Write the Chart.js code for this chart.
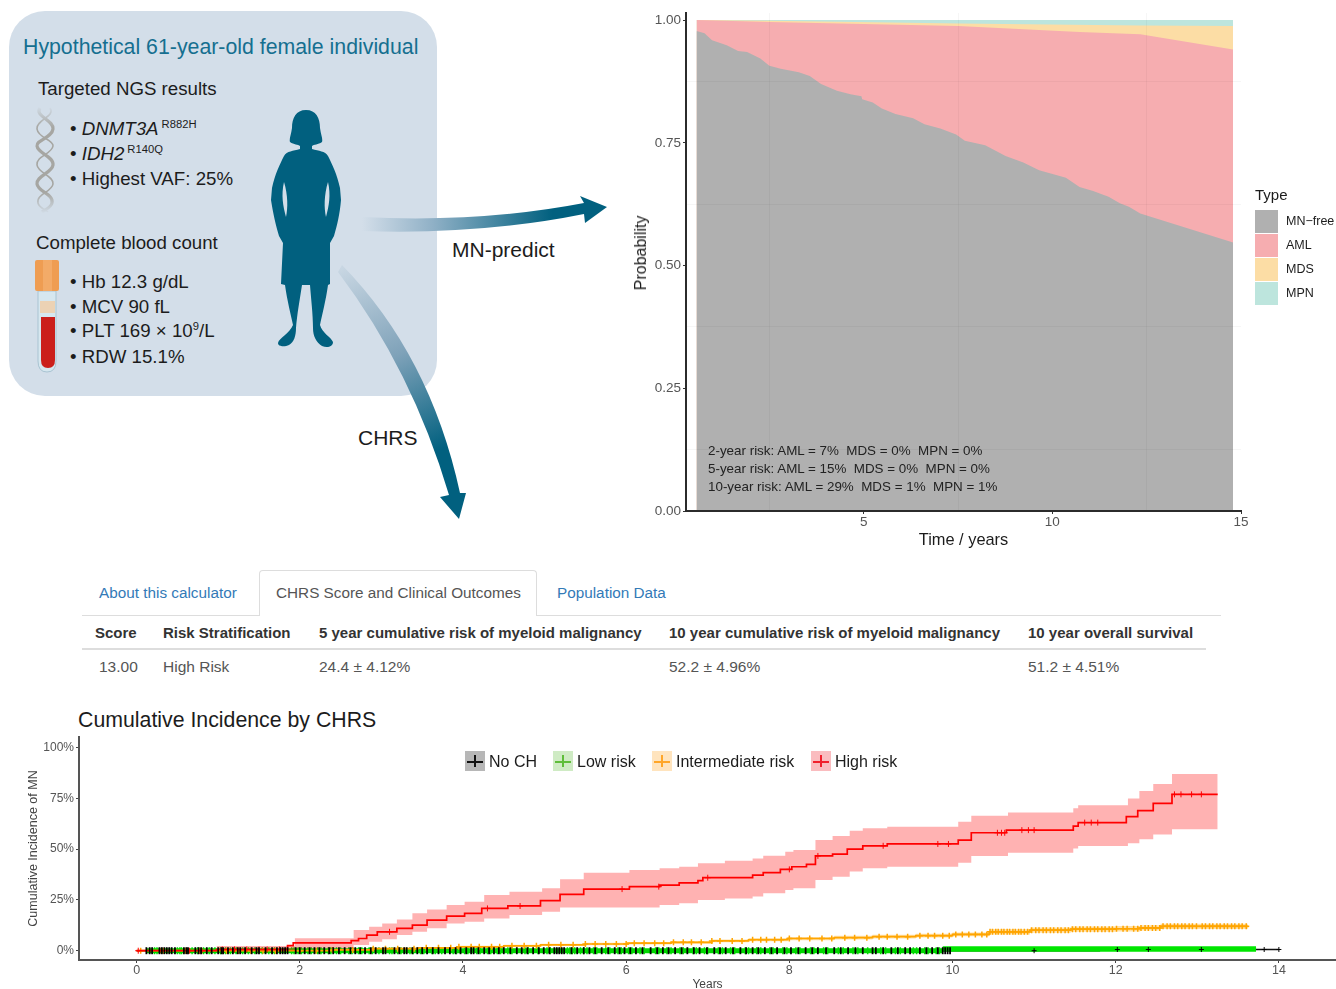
<!DOCTYPE html>
<html>
<head>
<meta charset="utf-8">
<title>MN-predict and CHRS</title>
<script src="https://cdn.jsdelivr.net/npm/chart.js@4/dist/chart.umd.min.js"></script>
<style>
  html, body { margin: 0; background: #fff; }
  body { position: relative; width: 1336px; height: 989px; overflow: hidden; font-family: "Liberation Sans", Arial, sans-serif; color: #1c1c1c; filter: blur(0.4px); }
  canvas, svg { position: absolute; }
  .t { position: absolute; white-space: pre; line-height: 1; transform: translateY(-50%); }
  .t sup { font-size: 0.6em; line-height: 0; vertical-align: baseline; position: relative; top: -0.62em; margin-left: 3px; }
  .swatch { position: absolute; }
</style>
</head>
<body>
<svg width="1336" height="989" style="left:0;top:0">
  <defs>
    <linearGradient id="arrowRight" x1="362" y1="0" x2="600" y2="0" gradientUnits="userSpaceOnUse">
      <stop offset="0" stop-color="#d3dee9"/><stop offset="0.3" stop-color="#8fb0c6"/><stop offset="0.8" stop-color="#01607f"/>
    </linearGradient>
    <linearGradient id="arrowDown" x1="345" y1="265" x2="455" y2="500" gradientUnits="userSpaceOnUse">
      <stop offset="0" stop-color="#c9d7e3"/><stop offset="0.4" stop-color="#7fa2b9"/><stop offset="0.8" stop-color="#01607f"/>
    </linearGradient>
    <linearGradient id="dnaFade" x1="0" y1="106" x2="0" y2="214" gradientUnits="userSpaceOnUse">
      <stop offset="0" stop-color="#d3dee9"/><stop offset="0.2" stop-color="#a6a6a2"/><stop offset="0.8" stop-color="#a6a6a2"/><stop offset="1" stop-color="#d3dee9"/>
    </linearGradient>
  </defs>
  <rect x="9" y="11" width="428" height="385" rx="36" fill="#d3dee9"/>
  <!-- DNA -->
  <g fill="none" stroke="url(#dnaFade)">
    <path stroke-width="1.6" d="M50 108C56 116 36 120 37 129C38 138 54 140 53 146C52 154 36 156 37 165C38 173 54 176 53 184C52 192 36 194 38 203C39 208 46 210 48 212"/>
    <path stroke-width="3.2" d="M40 108C34 116 54 120 53 129C52 138 36 140 37 146C38 154 54 156 53 165C52 173 36 176 37 184C38 192 54 194 52 203C51 208 44 210 42 212"/>
  </g>
  <!-- blood tube -->
  <path d="M38 291L38 361Q38 372 47 372Q56 372 56 361L56 291Z" fill="#d6e7ef" stroke="#a9c4d2"/>
  <rect x="40" y="301" width="15" height="12" fill="#ecd2b4"/>
  <path d="M41 317L55 317L55 360Q55 368 48 368Q41 368 41 360Z" fill="#cb1f1b"/>
  <rect x="35" y="260" width="24" height="31" rx="2" fill="#ef9d52"/>
  <rect x="43" y="260" width="9" height="31" fill="#f3ab68"/>
  <!-- person -->
  <path fill="#01607f" d="M306 110C296 110 292 118 292 128C291 135 289 139 290 142C294 145 298 144 300 146L300 149C293 151 287 151 284 156C280 164 275 174 272 188L271 200C273 213 276 226 279 236L283 243L281 284L285 285C287 300 291 315 293 325C290 333 279 338 278 343C278 347 285 347 289 345C294 342 296 336 296 328C297 315 300 298 302 285L310 285C311 298 313 315 313 328C313 336 316 342 322 346C327 348 333 347 333 342C331 337 322 333 320 325C322 315 326 300 328 285L330 284L330 243L334 236C337 226 340 213 341 200L340 188C337 174 332 164 328 156C325 151 319 151 312 149L312 146C314 144 318 145 322 142C323 139 321 135 320 128C320 118 316 110 306 110Z"/>
  <path fill="#d3dee9" d="M284 182C281 195 283 206 286 217C288 208 288 195 284 182ZM328 182C331 195 329 206 326 217C324 208 324 195 328 182Z"/>
  <!-- arrows -->
  <path fill="url(#arrowRight)" d="M362 217Q480 223 584 203L580 196L607 207L585 223L584 214Q480 235 362 231Z"/>
  <path fill="url(#arrowDown)" d="M342 265Q430 355 460 493L466 493L459 519L440 497L449 495Q412 370 338 272Z"/>
</svg>

<div id="texts"></div>

<canvas id="mnChart" width="706" height="560" style="left:630px;top:0"></canvas>
<canvas id="chrsChart" width="1336" height="292" style="left:0;top:700px"></canvas>
<div id="overlay"></div>

<script>
// panel A: stacked risk, boundary of each band
const mnFreeYears = [0.57, 0.78, 0.98, 1.37, 1.67, 1.91, 2.26, 2.50, 2.80, 3.28, 3.57, 3.87, 4.29, 4.65, 4.94, 4.96, 5.24, 5.48, 5.84, 6.31, 6.61, 7.03, 7.45, 7.68, 8.22, 8.76, 9.23, 9.65, 10.36, 10.72, 11.08, 11.49, 11.79, 12.03, 12.33, 14.79];
const mnFreeTop = [0.978, 0.973, 0.959, 0.949, 0.937, 0.935, 0.922, 0.907, 0.901, 0.894, 0.886, 0.870, 0.856, 0.849, 0.845, 0.839, 0.832, 0.820, 0.809, 0.800, 0.788, 0.779, 0.767, 0.754, 0.745, 0.723, 0.710, 0.694, 0.679, 0.660, 0.652, 0.640, 0.627, 0.620, 0.606, 0.547];
const amlYears = [0.57, 2.50, 7.50, 10.72, 12.33, 14.79];
const amlTop = [1.0, 0.996, 0.988, 0.976, 0.971, 0.940];
const mdsYears = [0.57, 2.50, 7.50, 12.33, 14.79];
const mdsTop = [1.0, 0.9986, 0.993, 0.989, 0.988];
const mpnYears = [0.57, 14.79];
const mpnTop = [1.0, 1.0];
const riskXTicks = [2.5, 5, 7.5, 10, 12.5, 15];
const riskYTicks = [0, 0.125, 0.25, 0.375, 0.5, 0.625, 0.75, 0.875, 1];
const riskLines = ['2-year risk: AML = 7%  MDS = 0%  MPN = 0%', '5-year risk: AML = 15%  MDS = 0%  MPN = 0%', '10-year risk: AML = 29%  MDS = 1%  MPN = 1%'];
const typeLabels = ['MN\u2212free', 'AML', 'MDS', 'MPN'];
const typeColors = ['#b0b0b0', '#f6adb0', '#fcdda5', '#bde5dd'];

// table
const tabLabels = ['About this calculator', 'CHRS Score and Clinical Outcomes', 'Population Data'];
const tableHeaders = ['Score', 'Risk Stratification', '5 year cumulative risk of myeloid malignancy', '10 year cumulative risk of myeloid malignancy', '10 year overall survival'];
const tableRow = ['13.00', 'High Risk', '24.4 \u00b1 4.12%', '52.2 \u00b1 4.96%', '51.2 \u00b1 4.51%'];

// panel B: cumulative incidence
const highYears = [0, 0.98, 1.85, 1.92, 2.63, 2.72, 2.82, 2.95, 3.19, 3.38, 3.56, 3.80, 4.02, 4.23, 4.55, 4.95, 5.19, 5.48, 6.04, 6.41, 6.65, 6.88, 6.94, 7.55, 7.68, 7.89, 8.03, 8.21, 8.32, 8.53, 8.71, 8.90, 9.20, 10.07, 10.23, 10.66, 11.48, 11.54, 12.13, 12.27, 12.46, 12.69, 13.25];
const highIncidence = [0, 0.6, 2.5, 3.9, 5.0, 6.0, 7.7, 9.3, 11.0, 12.6, 15.0, 17.0, 18.4, 20.8, 22.0, 24.6, 27.7, 30.3, 31.5, 32.3, 33.4, 34.5, 35.9, 37.2, 38.4, 40.0, 41.3, 42.5, 46.6, 47.5, 50.0, 51.6, 52.5, 54.4, 58.0, 59.3, 61.3, 63.0, 65.9, 68.9, 72.5, 76.9, 76.9];
const highBandYears = [0.98, 1.94, 2.66, 2.85, 3.01, 3.19, 3.38, 3.56, 3.80, 4.02, 4.26, 4.57, 4.97, 5.19, 5.48, 6.04, 6.41, 6.65, 6.88, 7.21, 7.55, 7.68, 7.95, 8.05, 8.32, 8.53, 8.74, 8.90, 9.20, 10.07, 10.23, 10.68, 11.48, 11.54, 12.15, 12.29, 12.46, 12.69, 13.25];
const highUpper = [2.3, 6.1, 10.2, 11.8, 13.4, 15.4, 18.4, 20.3, 22.5, 24.1, 27.4, 29.0, 30.7, 35.2, 38.4, 39.7, 40.5, 41.3, 43.0, 44.3, 45.4, 46.7, 48.7, 49.5, 54.4, 56.4, 59.0, 60.2, 61.0, 63.4, 66.4, 68.0, 70.0, 71.5, 74.9, 78.5, 82.0, 86.9, 86.9];
const highLower = [0, 1.1, 2.8, 4.4, 5.6, 7.7, 9.3, 11.0, 13.4, 14.3, 15.9, 17.5, 19.2, 21.3, 21.3, 21.3, 22.5, 23.3, 24.9, 25.7, 26.6, 28.2, 29.8, 30.7, 34.8, 36.4, 38.9, 40.5, 41.3, 43.3, 46.6, 48.2, 50.3, 51.5, 52.8, 54.8, 57.2, 59.7, 59.7];
const highCensor = [0.02, 0.3, 0.65, 0.8, 1.05, 1.2, 1.35, 1.5, 1.6, 1.75, 3.1, 4.3, 4.7, 5.95, 6.4, 7.0, 8.0, 8.35, 9.15, 9.82, 9.95, 10.55, 10.6, 10.64, 10.85, 10.93, 11.0, 11.62, 11.7, 11.78, 12.72, 12.8, 12.93, 13.05];

const interYears = [0, 2.4, 2.9, 3.45, 3.95, 4.5, 4.95, 5.5, 6.02, 6.55, 7.05, 7.5, 7.98, 8.55, 9.02, 9.55, 10.0, 10.45, 10.95, 11.45, 12.0, 12.3, 12.55, 13.62];
const interIncidence = [0, 0.4, 1.0, 1.4, 1.9, 2.4, 2.9, 3.3, 3.7, 4.1, 4.8, 5.4, 6.0, 6.4, 6.9, 7.4, 8.0, 9.3, 10.1, 10.6, 10.8, 11.2, 12.0, 12.1];
const interUpper = [0, 0.7, 1.4, 1.8, 2.4, 2.9, 3.4, 3.9, 4.3, 4.8, 5.5, 6.2, 6.8, 7.3, 7.8, 8.3, 8.9, 10.6, 11.4, 11.9, 12.1, 12.5, 13.3, 13.4];
const interLower = [0, 0.1, 0.6, 1.0, 1.4, 1.9, 2.4, 2.7, 3.1, 3.4, 4.1, 4.6, 5.2, 5.5, 6.0, 6.5, 7.1, 8.0, 8.8, 9.3, 9.5, 9.9, 10.7, 10.8];
const interCensor = [0.05, 0.33, 0.6, 0.77, 1.1, 1.25, 1.4, 1.55, 1.7, 2.0, 2.2, 2.4, 2.65, 2.9, 3.05, 3.2, 3.4, 3.55, 3.7, 3.85, 3.95, 4.1, 4.2, 4.35, 4.45, 4.6, 4.75, 4.9, 5.05, 5.2, 5.35, 5.5, 5.62, 5.75, 5.88, 6.0, 6.1, 6.22, 6.35, 6.46, 6.58, 6.7, 6.8, 6.92, 7.05, 7.15, 7.3, 7.42, 7.55, 7.65, 7.72, 7.82, 7.9, 8.0, 8.12, 8.25, 8.4, 8.52, 8.68, 8.8, 8.95, 9.1, 9.2, 9.32, 9.45, 9.6, 9.7, 9.78, 9.88, 9.96, 10.04, 10.12, 10.2, 10.28, 10.36, 10.42, 10.46, 10.49, 10.53, 10.56, 10.6, 10.63, 10.67, 10.7, 10.74, 10.77, 10.81, 10.84, 10.88, 10.92, 10.97, 11.02, 11.06, 11.11, 11.15, 11.2, 11.24, 11.29, 11.33, 11.38, 11.42, 11.47, 11.51, 11.56, 11.6, 11.65, 11.69, 11.74, 11.78, 11.83, 11.87, 11.92, 11.96, 12.01, 12.09, 12.14, 12.22, 12.27, 12.31, 12.36, 12.4, 12.45, 12.49, 12.54, 12.58, 12.63, 12.67, 12.72, 12.76, 12.81, 12.85, 12.9, 12.94, 12.99, 13.06, 13.1, 13.15, 13.19, 13.24, 13.28, 13.33, 13.37, 13.42, 13.46, 13.51, 13.55, 13.6];

const lowYears = [0.12, 9.88];
const lowIncidence = [0, 0];
const lowDenseYears = [9.88, 13.72];
const lowDenseIncidence = [0.9, 0.9];
const lowCensor = [0.22, 0.25, 0.5, 0.53, 0.55, 0.68, 0.75, 0.82, 0.89, 0.96, 1.03, 1.09, 1.15, 1.22, 1.3, 1.37, 1.45, 1.54, 1.62, 1.69, 1.9, 1.93, 1.98, 2.02, 2.1, 2.14, 2.22, 2.26, 2.35, 2.38, 2.45, 2.5, 2.6, 2.64, 2.72, 2.76, 2.85, 2.89, 2.97, 3.1, 3.13, 3.2, 3.24, 3.35, 3.39, 3.48, 3.52, 3.62, 3.66, 3.74, 3.88, 3.92, 4.02, 4.06, 4.17, 4.21, 4.3, 4.34, 4.42, 4.46, 4.55, 4.6, 4.76, 4.8, 4.92, 5.03, 5.07, 5.28, 5.31, 5.34, 5.37, 5.44, 5.48, 5.52, 5.6, 5.64, 5.75, 5.8, 5.9, 5.94, 6.03, 6.07, 6.17, 6.22, 6.36, 6.4, 6.5, 6.55, 6.66, 6.7, 6.82, 6.86, 6.96, 7.0, 7.13, 7.18, 7.28, 7.33, 7.46, 7.5, 7.6, 7.65, 7.76, 7.8, 7.92, 7.97, 8.08, 8.13, 8.26, 8.3, 8.42, 8.47, 8.6, 8.66, 8.78, 8.84, 8.96, 9.12, 9.18, 9.3, 9.36, 9.52, 9.56, 9.66, 9.7, 9.8, 9.84];

const noChYears = [0, 11.8, 14.0];
const noChIncidence = [0, 0.6, 0.6];
const noChCensor = [0.12, 0.16, 0.19, 0.28, 0.31, 0.34, 0.37, 0.4, 0.43, 0.47, 0.58, 0.61, 0.63, 0.72, 0.76, 0.79, 0.86, 0.92, 1.0, 1.04, 1.06, 1.12, 1.18, 1.24, 1.27, 1.33, 1.41, 1.47, 1.5, 1.58, 1.66, 1.72, 1.76, 1.79, 1.82, 1.85, 1.95, 2.0, 2.06, 2.12, 2.18, 2.24, 2.3, 2.36, 2.41, 2.48, 2.55, 2.62, 2.68, 2.74, 2.8, 2.87, 2.93, 3.02, 3.05, 3.16, 3.22, 3.28, 3.31, 3.38, 3.44, 3.5, 3.56, 3.63, 3.7, 3.78, 3.84, 3.91, 3.97, 4.04, 4.1, 4.13, 4.19, 4.26, 4.32, 4.38, 4.44, 4.5, 4.58, 4.66, 4.72, 4.79, 4.86, 4.93, 4.99, 5.06, 5.12, 5.15, 5.18, 5.21, 5.24, 5.33, 5.4, 5.48, 5.55, 5.62, 5.7, 5.78, 5.86, 5.92, 5.98, 6.05, 6.12, 6.2, 6.3, 6.38, 6.45, 6.52, 6.6, 6.68, 6.75, 6.83, 6.9, 6.99, 7.08, 7.15, 7.22, 7.31, 7.4, 7.47, 7.55, 7.62, 7.7, 7.78, 7.85, 7.94, 8.02, 8.11, 8.2, 8.28, 8.35, 8.45, 8.55, 8.63, 8.72, 8.81, 8.9, 9.02, 9.06, 9.15, 9.25, 9.33, 9.42, 9.48, 9.6, 9.68, 9.75, 9.82, 9.88, 9.91, 9.94, 9.97];
const noChLateCensor = [11.0, 12.02, 12.4, 13.05, 13.82, 14.0];

const chrsXTicks = [0, 2, 4, 6, 8, 10, 12, 14];
const chrsYTicks = [0, 25, 50, 75, 100];
const strataLabels = ['No CH', 'Low risk', 'Intermediate risk', 'High risk'];
const strataLegendColors = ['#111111', '#5fbd3a', '#ffa629', '#f0202c'];

const points = (xs, ys) => xs.map((x, i) => ({ x, y: ys[i] }));

// censor marks sit on the step curve they belong to
function onSteps(censor, xs, ys) {
    return censor.map(t => {
        let y = ys[0];
        xs.forEach((x, i) => { if (x <= t) y = ys[i]; });
        return { x: t, y };
    });
}

function fixedTicks(values) {
    return scale => { scale.ticks = values.map(value => ({ value })); };
}

function addText(parent, text, x, y, style) {
    const el = document.createElement('div');
    el.className = 't';
    el.innerHTML = text;
    el.style.left = x + 'px';
    el.style.top = y + 'px';
    Object.assign(el.style, style);
    parent.appendChild(el);
    return el;
}

const texts = document.getElementById('texts');
const overlay = document.getElementById('overlay');

// infographic text
addText(texts, 'Hypothetical 61-year-old female individual', 23, 48, { fontSize: '21.3px', color: '#156f90' });
addText(texts, 'Targeted NGS results', 38, 89, { fontSize: '18.7px' });
addText(texts, '\u2022 <i>DNMT3A</i><sup>R882H</sup>', 70, 129, { fontSize: '18.7px' });
addText(texts, '\u2022 <i>IDH2</i><sup>R140Q</sup>', 70, 154, { fontSize: '18.7px' });
addText(texts, '\u2022 Highest VAF: 25%', 70, 179, { fontSize: '18.7px' });
addText(texts, 'Complete blood count', 36, 243, { fontSize: '18.7px' });
addText(texts, '\u2022 Hb 12.3 g/dL', 70, 282, { fontSize: '18.7px' });
addText(texts, '\u2022 MCV 90 fL', 70, 307, { fontSize: '18.7px' });
addText(texts, '\u2022 PLT 169 \u00d7 10<sup style="margin-left:0">9</sup>/L', 70, 331, { fontSize: '18.7px' });
addText(texts, '\u2022 RDW 15.1%', 70, 357, { fontSize: '18.7px' });
addText(texts, 'MN-predict', 452, 249, { fontSize: '21px' });
addText(texts, 'CHRS', 358, 437, { fontSize: '21px' });

// tabs and table
const line = (x, y, w, h, c) => {
    const d = document.createElement('div');
    d.className = 'swatch';
    Object.assign(d.style, { left: x + 'px', top: y + 'px', width: w + 'px', height: h + 'px', background: c });
    texts.appendChild(d);
    return d;
};
line(82, 615, 1139, 1, '#dddddd');
const activeTab = line(259, 570, 278, 46, '#ffffff');
Object.assign(activeTab.style, { border: '1px solid #dddddd', borderBottom: 'none', borderRadius: '4px 4px 0 0', boxSizing: 'border-box' });
line(82, 648, 1124, 2, '#dddddd');
[99, 276, 557].forEach((x, i) => addText(texts, tabLabels[i], x, 593, { fontSize: '15.3px', color: i === 1 ? '#555555' : '#337ab7' }));
[95, 163, 319, 669, 1028].forEach((x, i) => addText(texts, tableHeaders[i], x, 631.5, { fontSize: '15px', fontWeight: 'bold', color: '#333333' }));
[99, 163, 319, 669, 1028].forEach((x, i) => addText(texts, tableRow[i], x, 667, { fontSize: '15.5px', color: '#555555' }));
addText(texts, 'Cumulative Incidence by CHRS', 78, 721, { fontSize: '21.3px' });

// risk chart legend and annotation
addText(overlay, 'Type', 1255, 194, { fontSize: '15px' });
typeLabels.forEach((label, i) => {
    const box = document.createElement('div');
    box.className = 'swatch';
    Object.assign(box.style, { left: '1255px', top: (209.5 + i * 24) + 'px', width: '23px', height: '23px', background: typeColors[i] });
    overlay.appendChild(box);
    addText(overlay, label, 1286, 221 + i * 24, { fontSize: '12.5px' });
});
riskLines.forEach((text, i) => addText(overlay, text, 708, 451 + i * 18, { fontSize: '13.4px', color: '#222222' }));
const probTitle = addText(overlay, 'Probability', 641, 253, { fontSize: '16px' });
probTitle.style.transform = 'translate(-50%,-50%) rotate(-90deg)';

// survival chart legend
[465, 553, 652, 811].forEach((x, i) => {
    const c = strataLegendColors[i];
    const box = document.createElement('div');
    box.className = 'swatch';
    Object.assign(box.style, { left: x + 'px', top: '751px', width: '20px', height: '20px', background: c, opacity: 0.3 });
    overlay.appendChild(box);
    [[x + 2, 760.5, 16, 2], [x + 9, 755, 2, 12]].forEach(([lx, ly, w, h]) => {
        const bar = document.createElement('div');
        bar.className = 'swatch';
        Object.assign(bar.style, { left: lx + 'px', top: ly + 'px', width: w + 'px', height: h + 'px', background: c });
        overlay.appendChild(bar);
    });
    addText(overlay, strataLabels[i], x + 24, 762, { fontSize: '16px' });
});

Chart.defaults.font.family = '"Liberation Sans", Arial, sans-serif';
Chart.defaults.animation = false;

function area(years, top, color) {
    return { data: points(years, top), backgroundColor: color, borderWidth: 0, pointRadius: 0, fill: 'origin', tension: 0 };
}

// painted back to front, the first dataset ends up on top
new Chart(document.getElementById('mnChart'), {
    type: 'line',
    data: {
        datasets: [
            area(mnFreeYears, mnFreeTop, typeColors[0]),
            area(amlYears, amlTop, typeColors[1]),
            area(mdsYears, mdsTop, typeColors[2]),
            area(mpnYears, mpnTop, typeColors[3]),
        ],
    },
    options: {
        responsive: false,
        devicePixelRatio: 1,
        layout: { autoPadding: false, padding: { left: 0, right: 95, top: 13, bottom: 0 } },
        plugins: { legend: { display: false }, tooltip: { enabled: false } },
        scales: {
            x: {
                type: 'linear', min: 0.29, max: 15,
                afterBuildTicks: fixedTicks(riskXTicks),
                afterFit: s => { s.height = 49; s.paddingLeft = 0; s.paddingRight = 0; },
                border: { color: '#2b2b2b', width: 2, z: 2 },
                grid: {
                    z: 1, tickLength: 3,
                    color: c => c.tick && c.tick.value % 5 ? 'rgba(0,0,0,0.035)' : 'rgba(0,0,0,0)',
                    tickColor: c => c.tick && c.tick.value % 5 ? 'rgba(0,0,0,0)' : '#333333',
                },
                ticks: { autoSkip: false, maxRotation: 0, padding: 0, color: '#555555', font: { size: 13.5 }, callback: v => v % 5 ? '' : String(v) },
                title: { display: true, text: 'Time / years', color: '#1c1c1c', font: { size: 16.4 }, padding: { top: 0, bottom: 10 } },
            },
            y: {
                min: 0, max: 1.0145,
                afterBuildTicks: fixedTicks(riskYTicks),
                afterFit: s => { s.width = 56; },
                border: { color: '#2b2b2b', width: 2, z: 2 },
                grid: {
                    z: 1, tickLength: 3,
                    color: c => c.tick && c.tick.value % 0.25 ? 'rgba(0,0,0,0.035)' : 'rgba(0,0,0,0)',
                    tickColor: c => c.tick && c.tick.value % 0.25 ? 'rgba(0,0,0,0)' : '#333333',
                },
                ticks: { autoSkip: false, padding: 2, color: '#555555', font: { size: 13.5 }, callback: v => v % 0.25 ? '' : v.toFixed(2) },
            },
        },
    },
});

function stepLine(data, color, width) {
    return { data, borderColor: color, borderWidth: width, stepped: true, pointRadius: 0, fill: false, tension: 0 };
}

function band(years, values, color, fill) {
    return { data: points(years, values), borderWidth: 0, borderColor: 'rgba(0,0,0,0)', backgroundColor: color, stepped: true, pointRadius: 0, fill, tension: 0 };
}

function censorMarks(data, color, radius, width) {
    return { data, showLine: false, pointStyle: 'cross', pointRadius: radius, pointBorderColor: color, pointBorderWidth: width, fill: false };
}

// first dataset is drawn last
new Chart(document.getElementById('chrsChart'), {
    type: 'line',
    data: {
        datasets: [
            { ...censorMarks(onSteps(noChCensor, noChYears, noChIncidence), '#000000', 3.5, 1.8), pointStyle: 'line', pointRotation: 90 },
            censorMarks(onSteps(noChLateCensor, noChYears, noChIncidence), '#000000', 2.5, 1),
            censorMarks(onSteps(highCensor, highYears, highIncidence), '#ff0000', 3, 1),
            stepLine(points(highYears, highIncidence), '#ff0000', 1.7),
            band(highBandYears, highUpper, 'rgba(255,0,0,0.3)', '+1'),
            band(highBandYears, highLower, 'rgba(0,0,0,0)', false),
            censorMarks(onSteps(interCensor, interYears, interIncidence), '#ffa500', 3, 1.5),
            stepLine(points(interYears, interIncidence), '#ffa500', 1.7),
            band(interYears, interUpper, 'rgba(255,165,0,0.35)', '+1'),
            band(interYears, interLower, 'rgba(0,0,0,0)', false),
            stepLine(points(lowDenseYears, lowDenseIncidence), '#00e600', 5.5),
            censorMarks(onSteps(lowCensor, lowYears, lowIncidence), '#00d800', 3.5, 1.5),
            stepLine(points(lowYears, lowIncidence), '#00d800', 5),
            stepLine(points(noChYears, noChIncidence), '#111111', 1.5),
        ],
    },
    options: {
        responsive: false,
        devicePixelRatio: 1,
        layout: { autoPadding: false, padding: { left: 0, right: 0, top: 37, bottom: 0 } },
        plugins: { legend: { display: false }, tooltip: { enabled: false } },
        scales: {
            x: {
                type: 'linear', min: -0.706, max: 14.7,
                afterBuildTicks: fixedTicks(chrsXTicks),
                afterFit: s => { s.height = 32; s.paddingLeft = 0; s.paddingRight = 0; },
                border: { color: '#555555', width: 2 },
                grid: { drawOnChartArea: false, tickLength: 3, tickColor: '#444444' },
                ticks: { autoSkip: false, maxRotation: 0, padding: 0, color: '#555555', font: { size: 12.5 }, callback: v => String(v) },
                title: { display: true, text: 'Years', color: '#444444', font: { size: 12 }, padding: { top: 1, bottom: 0 } },
            },
            y: {
                min: -4.57, max: 105.1,
                afterBuildTicks: fixedTicks(chrsYTicks),
                afterFit: s => { s.width = 79; },
                border: { color: '#555555', width: 2 },
                grid: { drawOnChartArea: false, tickLength: 3, tickColor: '#444444' },
                ticks: { autoSkip: false, padding: 2, color: '#555555', font: { size: 12 }, callback: v => v + '%' },
                title: { display: true, text: 'Cumulative Incidence of MN', color: '#444444', font: { size: 12.5 }, padding: { top: 26, bottom: 0 } },
            },
        },
    },
});
</script>
</body>
</html>
